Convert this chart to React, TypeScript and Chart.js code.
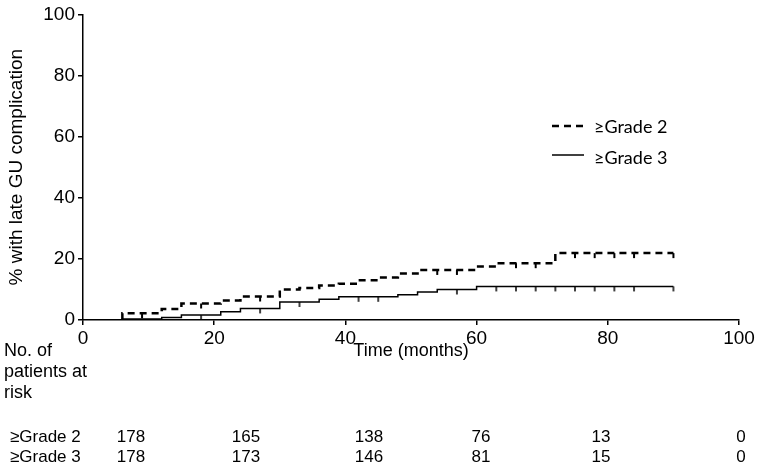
import React, { useEffect, useRef } from "react";
import { Chart, registerables } from "chart.js";

Chart.register(...registerables);

// ---- data ----
const xTickValues = [0, 20, 40, 60, 80, 100];
const yTickValues = [0, 20, 40, 60, 80, 100];

const seriesNames = ["≥Grade 2", "≥Grade 3"];

const grade2Times = [6, 6, 12, 15, 21, 24, 30, 33, 36, 39, 42, 45, 48, 51, 60, 63, 72, 90];
const grade2Values = [0, 2.2, 3.6, 5.4, 6.4, 7.7, 10.0, 10.5, 11.3, 11.9, 13.0, 13.9, 15.2, 16.4, 17.5, 18.6, 21.9, 21.9];
const grade2Censored = [9, 18, 27, 54, 57, 66, 69, 75, 78, 81, 84, 90];

const grade3Times = [6, 6, 12, 15, 21, 24, 30, 36, 39, 48, 51, 54, 60, 90];
const grade3Values = [0, 0.3, 0.8, 1.6, 2.7, 3.8, 5.9, 6.8, 7.6, 8.3, 9.2, 10.0, 11.0, 11.0];
const grade3Censored = [9, 18, 27, 33, 42, 45, 57, 63, 66, 69, 72, 75, 78, 81, 84, 90];

const riskTimes = [0, 20, 40, 60, 80, 100];
const riskGrade2 = [178, 165, 138, 76, 13, 0];
const riskGrade3 = [178, 173, 146, 81, 15, 0];
const riskHeader = ["No. of", "patients at", "risk"];

// ---- helpers ----
function stepValue(times: number[], values: number[], t: number) {
  let v = values[0];
  for (let i = 0; i < times.length; i++) if (times[i] <= t) v = values[i];
  return v;
}

function censorMark(width: number, len: number) {
  const c = document.createElement("canvas");
  c.width = 4;
  c.height = len * 2 + 2;
  const g = c.getContext("2d")!;
  g.strokeStyle = "#000";
  g.lineWidth = width;
  g.beginPath();
  g.moveTo(2, len + 1);
  g.lineTo(2, len * 2 + 1);
  g.stroke();
  return c;
}

const riskTablePlugin = {
  id: "riskTableAndLegend",
  afterDraw(chart: any) {
    const ctx = chart.ctx as CanvasRenderingContext2D;
    ctx.save();
    ctx.fillStyle = "#000";
    ctx.strokeStyle = "#000";
    // legend
    const legY = [126, 155];
    ctx.lineWidth = 2.5;
    ctx.setLineDash([7, 5]);
    ctx.beginPath();
    ctx.moveTo(552, legY[0]);
    ctx.lineTo(586, legY[0]);
    ctx.stroke();
    ctx.setLineDash([]);
    ctx.lineWidth = 1.5;
    ctx.beginPath();
    ctx.moveTo(552, legY[1]);
    ctx.lineTo(584, legY[1]);
    ctx.stroke();
    ctx.font = "18px Lato, 'Open Sans', sans-serif";
    ctx.textAlign = "left";
    ctx.textBaseline = "middle";
    ctx.fillText(seriesNames[0], 594, legY[0] + 1);
    ctx.fillText(seriesNames[1], 594, legY[1] + 3);

    // risk table header
    ctx.font = "18px 'Liberation Sans', Arial, sans-serif";
    const headY = [351, 372, 393];
    riskHeader.forEach((t, i) => ctx.fillText(t, 4, headY[i]));

    // rows
    ctx.font = "17px 'Liberation Sans Narrow', 'Liberation Sans', Arial, sans-serif";
    const rowY = [437, 457];
    ctx.fillText(seriesNames[0], 10, rowY[0]);
    ctx.fillText(seriesNames[1], 10, rowY[1]);
    const colX = [131, 246, 369, 481, 601, 741];
    ctx.textAlign = "center";
    riskTimes.forEach((_, i) => {
      ctx.fillText(String(riskGrade2[i]), colX[i], rowY[0]);
      ctx.fillText(String(riskGrade3[i]), colX[i], rowY[1]);
    });
    ctx.restore();
  },
};

export default function App() {
  const ref = useRef<HTMLCanvasElement>(null);
  useEffect(() => {
    const mark2 = censorMark(2, 5);
    const mark3 = censorMark(1.5, 5);
    const pts = (ts: number[], vs: number[]) => ts.map((t, i) => ({ x: t, y: vs[i] }));
    const cens = (cs: number[], ts: number[], vs: number[]) =>
      cs.map((t) => ({ x: t, y: stepValue(ts, vs, t) }));
    const font = { family: "'Liberation Sans', Arial, sans-serif", size: 19 };
    const chart = new Chart(ref.current!, {
      type: "line",
      data: {
        datasets: [
          {
            label: seriesNames[0],
            data: pts(grade2Times, grade2Values),
            stepped: true,
            borderColor: "#000",
            borderWidth: 2.5,
            borderDash: [7, 5],
            pointRadius: 0,
            fill: false,
          },
          {
            label: seriesNames[1],
            data: pts(grade3Times, grade3Values),
            stepped: true,
            borderColor: "#000",
            borderWidth: 1.5,
            pointRadius: 0,
            fill: false,
          },
          {
            label: "c2",
            data: cens(grade2Censored, grade2Times, grade2Values),
            showLine: false,
            pointStyle: mark2 as any,
            pointRadius: 3,
          },
          {
            label: "c3",
            data: cens(grade3Censored, grade3Times, grade3Values),
            showLine: false,
            pointStyle: mark3 as any,
            pointRadius: 3,
          },
        ],
      },
      options: {
        animation: false,
        responsive: false,
        devicePixelRatio: 1,
        layout: { padding: { left: 0, right: 21, top: 12, bottom: 0 } },
        plugins: { legend: { display: false }, tooltip: { enabled: false } },
        scales: {
          x: {
            type: "linear",
            min: 0,
            max: 100,
            afterBuildTicks: (s: any) => {
              s.ticks = xTickValues.map((v) => ({ value: v }));
            },
            ticks: { color: "#000", font, padding: 2, maxRotation: 0 },
            grid: { drawOnChartArea: false, drawTicks: true, tickLength: 5, color: "#000", lineWidth: 1.5 },
            border: { display: true, color: "#000", width: 1.5 },
            title: {
              display: true,
              text: "Time (months)",
              color: "#000",
              font: { family: "'Liberation Sans', Arial, sans-serif", size: 18 },
              padding: { top: 0, bottom: 108 },
            },
            afterFit: (s: any) => {
              s.height = 150;
            },
          },
          y: {
            type: "linear",
            min: 0,
            max: 100,
            afterBuildTicks: (s: any) => {
              s.ticks = yTickValues.map((v) => ({ value: v }));
            },
            ticks: { color: "#000", font, padding: 3 },
            grid: { drawOnChartArea: false, drawTicks: true, tickLength: 5, color: "#000", lineWidth: 1.5 },
            border: { display: true, color: "#000", width: 1.5 },
            title: {
              display: true,
              text: "% with late GU complication",
              color: "#000",
              font: { family: "'Liberation Sans', Arial, sans-serif", size: 19 },
              padding: { top: 5, bottom: 0 },
            },
            afterFit: (s: any) => {
              s.width = 83;
            },
          },
        },
      },
      plugins: [riskTablePlugin],
    });
    return () => chart.destroy();
  }, []);
  return (
    <div style={{ position: "fixed", left: 0, top: 0, width: 760, height: 470, background: "#fff" }}>
      <canvas ref={ref} width={760} height={470} />
    </div>
  );
}
